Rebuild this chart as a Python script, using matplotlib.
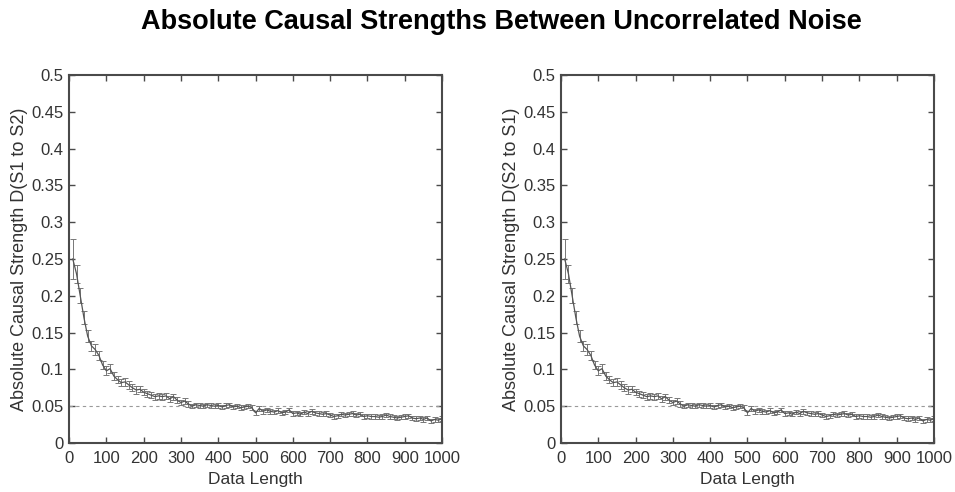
import numpy as np
import matplotlib
matplotlib.use("Agg")
import matplotlib.pyplot as plt

plt.rcParams['font.family'] = ['Liberation Sans', 'DejaVu Sans']

# ----------------------------
# Data
# ----------------------------
data_length = list(range(10, 1001, 10))

s1_to_s2 = [
    0.250, 0.230, 0.200, 0.170, 0.145, 0.132, 0.127, 0.119, 0.106, 0.098,
    0.101, 0.091, 0.086, 0.082, 0.083, 0.079, 0.075, 0.072, 0.073, 0.069,
    0.067, 0.065, 0.063, 0.064, 0.063, 0.064, 0.060, 0.063, 0.058, 0.055,
    0.057, 0.053, 0.050, 0.052, 0.051, 0.050, 0.052, 0.051, 0.050, 0.051,
    0.049, 0.051, 0.052, 0.049, 0.050, 0.048, 0.049, 0.050, 0.048, 0.041,
    0.047, 0.043, 0.045, 0.043, 0.042, 0.044, 0.041, 0.042, 0.045, 0.040,
    0.041, 0.039, 0.042, 0.040, 0.043, 0.041, 0.040, 0.039, 0.040, 0.038,
    0.036, 0.037, 0.039, 0.038, 0.039, 0.040, 0.038, 0.039, 0.036, 0.037,
    0.036, 0.036, 0.035, 0.036, 0.038, 0.036, 0.035, 0.034, 0.035, 0.036,
    0.037, 0.034, 0.033, 0.034, 0.032, 0.034, 0.030, 0.032, 0.031, 0.033,
]

s1_to_s2_err = [
    0.027, 0.012, 0.010, 0.009, 0.008, 0.007, 0.007, 0.006, 0.006, 0.006,
    0.006, 0.005, 0.005, 0.005, 0.005, 0.005, 0.005, 0.005, 0.004, 0.004,
    0.004, 0.004, 0.004, 0.004, 0.004, 0.004, 0.004, 0.004, 0.004, 0.004,
    0.004, 0.004, 0.003, 0.003, 0.003, 0.003, 0.003, 0.003, 0.003, 0.003,
    0.003, 0.003, 0.003, 0.003, 0.003, 0.003, 0.003, 0.003, 0.003, 0.003,
    0.003, 0.003, 0.003, 0.003, 0.003, 0.003, 0.003, 0.003, 0.003, 0.003,
    0.003, 0.003, 0.003, 0.003, 0.003, 0.003, 0.003, 0.003, 0.003, 0.003,
    0.003, 0.003, 0.003, 0.003, 0.003, 0.003, 0.003, 0.003, 0.003, 0.003,
    0.003, 0.003, 0.003, 0.003, 0.003, 0.003, 0.003, 0.003, 0.003, 0.003,
    0.003, 0.003, 0.003, 0.003, 0.003, 0.003, 0.003, 0.003, 0.003, 0.003,
]

# the second panel shows the same curve in the reference
s2_to_s1 = list(s1_to_s2)
s2_to_s1_err = list(s1_to_s2_err)

threshold = 0.05
x_ticks = list(range(0, 1001, 100))
y_ticks = [0, 0.05, 0.1, 0.15, 0.2, 0.25, 0.3, 0.35, 0.4, 0.45, 0.5]
y_tick_labels = ["0", "0.05", "0.1", "0.15", "0.2", "0.25", "0.3", "0.35", "0.4", "0.45", "0.5"]

panels = [
    (s1_to_s2, s1_to_s2_err, "Absolute Causal Strength D(S1 to S2)"),
    (s2_to_s1, s2_to_s1_err, "Absolute Causal Strength D(S2 to S1)"),
]

# ----------------------------
# Figure
# ----------------------------
fig = plt.figure(figsize=(9.55, 4.92), dpi=100)
axes_pos = [[0.0723, 0.0996, 0.3906, 0.748], [0.5874, 0.0996, 0.3906, 0.748]]

spine_col = "#4a4a4a"
text_col = "#333333"

for pos, (vals, errs, ylab) in zip(axes_pos, panels):
    ax = fig.add_axes(pos)
    ax.plot([0, 1000], [threshold, threshold], linestyle=(0, (3, 3)),
            color="#9a9a9a", linewidth=0.8)
    ax.errorbar(data_length, vals, yerr=errs, color="#555555", linewidth=0.9,
                elinewidth=0.7, capsize=2, capthick=0.7, ecolor="#777777")
    ax.set_xlim(0, 1000)
    ax.set_ylim(0, 0.5)
    ax.set_xticks(x_ticks)
    ax.set_yticks(y_ticks)
    ax.set_yticklabels(y_tick_labels)
    ax.tick_params(direction="in", top=True, right=True, length=4, width=1,
                   colors=spine_col, labelcolor=text_col, labelsize=12)
    ax.tick_params(axis="x", pad=6)
    ax.tick_params(axis="y", pad=4)
    for sp in ax.spines.values():
        sp.set_color(spine_col)
        sp.set_linewidth(1.5)
    ax.set_xlabel("Data Length", fontsize=12.5, color=text_col, labelpad=4)
    ax.set_ylabel(ylab, fontsize=13, color=text_col, labelpad=2)

fig.text(0.525, 0.955, "Absolute Causal Strengths Between Uncorrelated Noise",
         ha="center", va="center", fontsize=19.5, fontweight="bold", color="black")

fig.savefig("out.png", dpi=100)
plt.close(fig)
